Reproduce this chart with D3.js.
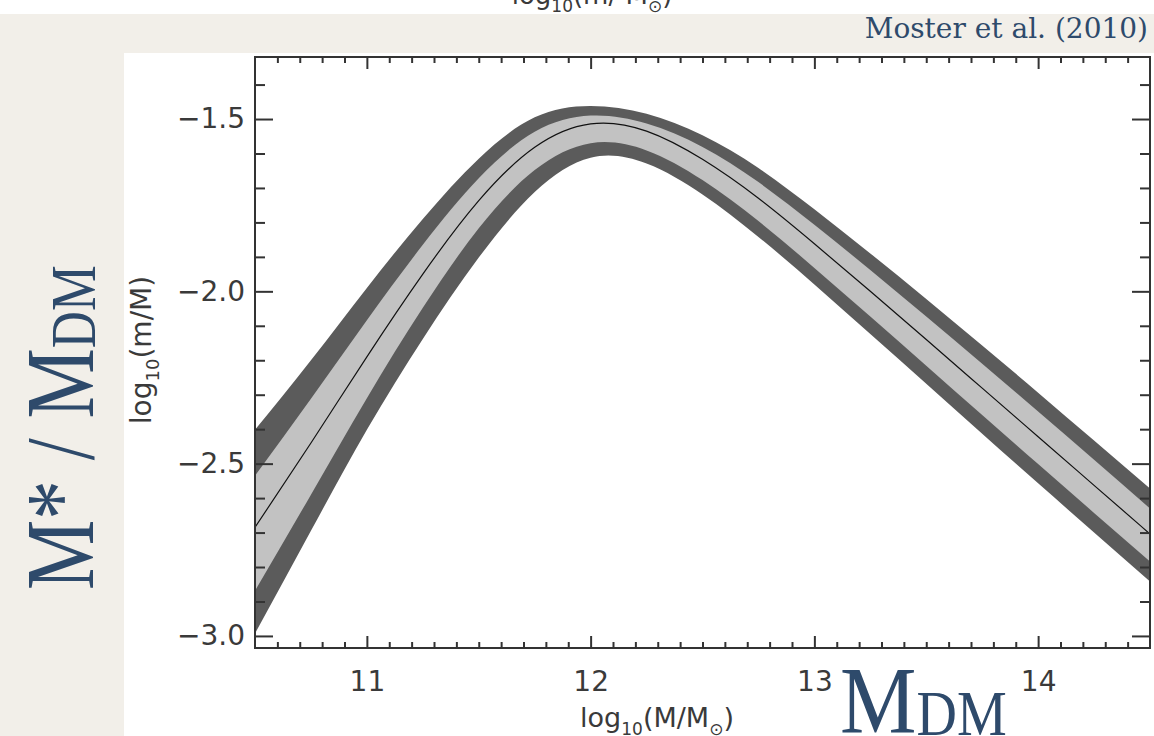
<!DOCTYPE html>
<html>
<head>
<meta charset="utf-8">
<script src="https://cdn.jsdelivr.net/npm/d3@7"></script>
<style>
  body { margin: 0; background: #f2efe9; }
  svg { display: block; }
</style>
</head>
<body>
<script>
// halo mass grid, log10(M/Msun)
const haloMass = [10.5, 10.75, 11.0, 11.25, 11.5, 11.75, 12.0, 12.25, 12.5, 12.75, 13.0, 13.25, 13.5, 13.75, 14.0, 14.25, 14.5];
// log10(m/M)
const ratioMedian = [-2.685, -2.440, -2.190, -1.950, -1.737, -1.582, -1.514, -1.535, -1.617, -1.730, -1.862, -2.000, -2.140, -2.281, -2.422, -2.563, -2.704];
const outerUpper  = [-2.402, -2.200, -1.990, -1.790, -1.615, -1.495, -1.462, -1.485, -1.547, -1.642, -1.762, -1.890, -2.022, -2.157, -2.294, -2.433, -2.572];
const innerUpper  = [-2.535, -2.312, -2.084, -1.865, -1.672, -1.537, -1.490, -1.513, -1.581, -1.683, -1.807, -1.938, -2.073, -2.210, -2.349, -2.489, -2.630];
const innerLower  = [-2.869, -2.590, -2.310, -2.048, -1.817, -1.648, -1.570, -1.591, -1.677, -1.796, -1.932, -2.073, -2.216, -2.359, -2.501, -2.643, -2.784];
const outerLower  = [-2.993, -2.695, -2.402, -2.138, -1.902, -1.712, -1.612, -1.629, -1.719, -1.842, -1.980, -2.124, -2.268, -2.413, -2.557, -2.700, -2.842];

const xTicks = [11, 12, 13, 14];
const yTicks = [-1.5, -2.0, -2.5, -3.0];

const W = 1154, H = 736;
const frame = {left: 255, right: 1150, top: 57, bottom: 648};
const serifColor = "#2e4a6b";
const inkColor = "#3a3a3a";

const svg = d3.select("body").append("svg")
    .attr("width", W)
    .attr("height", H);

// slide background
svg.append("rect").attr("width", W).attr("height", H).attr("fill", "#f2efe9");
svg.append("rect").attr("width", W).attr("height", 14).attr("fill", "#ffffff");
svg.append("rect").attr("x", 124).attr("y", 53).attr("width", W - 124).attr("height", H - 53).attr("fill", "#ffffff");

// cut-off label from the panel above
const cut = svg.append("text")
    .attr("x", 592).attr("y", 4)
    .attr("text-anchor", "middle")
    .style("font-family", "DejaVu Sans").style("font-size", "26px").style("fill", inkColor);
cut.append("tspan").text("log");
cut.append("tspan").attr("dy", 8).style("font-size", "17px").text("10");
cut.append("tspan").attr("dy", -8).text("(m/ M");
cut.append("tspan").attr("dy", 8).style("font-size", "17px").text("⊙");
cut.append("tspan").attr("dy", -8).text(")");

const x = d3.scaleLinear().domain([10.5, 14.5]).range([frame.left, frame.right]);
const y = d3.scaleLinear().domain([-3.035, -1.32]).range([frame.bottom, frame.top]);

const rows = haloMass.map((m, i) => ({
    m: m, mid: ratioMedian[i],
    ou: outerUpper[i], iu: innerUpper[i], il: innerLower[i], ol: outerLower[i]
}));

svg.append("clipPath").attr("id", "clip")
    .append("rect")
    .attr("x", frame.left).attr("y", frame.top)
    .attr("width", frame.right - frame.left).attr("height", frame.bottom - frame.top);

const plot = svg.append("g").attr("clip-path", "url(#clip)");

const outerArea = d3.area().curve(d3.curveNatural)
    .x(d => x(d.m)).y0(d => y(d.ol)).y1(d => y(d.ou));
const innerArea = d3.area().curve(d3.curveNatural)
    .x(d => x(d.m)).y0(d => y(d.il)).y1(d => y(d.iu));
const midLine = d3.line().curve(d3.curveNatural)
    .x(d => x(d.m)).y(d => y(d.mid));

plot.append("path").datum(rows).attr("d", outerArea).attr("fill", "#5b5b5b");
plot.append("path").datum(rows).attr("d", innerArea).attr("fill", "#c2c2c2");
plot.append("path").datum(rows).attr("d", midLine)
    .attr("fill", "none").attr("stroke", "#111").attr("stroke-width", 1.2);

// axes: ticks point inward on all four sides
const xMinor = d3.range(10.6, 14.45, 0.1).filter(v => Math.abs(v - Math.round(v)) > 0.01);
const yMinor = d3.range(-2.9, -1.35, 0.1).filter(v => Math.abs(v * 2 - Math.round(v * 2)) > 0.01);

function styleAxis(g) {
    g.select(".domain").remove();
    g.selectAll("line").attr("stroke", "#333").attr("stroke-width", 2);
    g.selectAll("text")
        .style("font-family", "DejaVu Sans")
        .style("font-size", "28px")
        .style("fill", inkColor);
}

svg.append("g").attr("transform", `translate(0,${frame.bottom})`)
    .call(d3.axisBottom(x).tickValues(xTicks).tickSize(-12).tickPadding(23).tickFormat(d3.format("d")))
    .call(styleAxis);
svg.append("g").attr("transform", `translate(0,${frame.bottom})`)
    .call(d3.axisBottom(x).tickValues(xMinor).tickSize(-6).tickFormat(""))
    .call(styleAxis);
svg.append("g").attr("transform", `translate(0,${frame.top})`)
    .call(d3.axisTop(x).tickValues(xTicks).tickSize(-12).tickFormat(""))
    .call(styleAxis);
svg.append("g").attr("transform", `translate(0,${frame.top})`)
    .call(d3.axisTop(x).tickValues(xMinor).tickSize(-6).tickFormat(""))
    .call(styleAxis);

svg.append("g").attr("transform", `translate(${frame.left},0)`)
    .call(d3.axisLeft(y).tickValues(yTicks).tickSize(-18).tickPadding(10).tickFormat(d3.format(".1f")))
    .call(styleAxis);
svg.append("g").attr("transform", `translate(${frame.left},0)`)
    .call(d3.axisLeft(y).tickValues(yMinor).tickSize(-10).tickFormat(""))
    .call(styleAxis);
svg.append("g").attr("transform", `translate(${frame.right},0)`)
    .call(d3.axisRight(y).tickValues(yTicks).tickSize(-18).tickFormat(""))
    .call(styleAxis);
svg.append("g").attr("transform", `translate(${frame.right},0)`)
    .call(d3.axisRight(y).tickValues(yMinor).tickSize(-10).tickFormat(""))
    .call(styleAxis);

svg.append("rect")
    .attr("x", frame.left).attr("y", frame.top)
    .attr("width", frame.right - frame.left).attr("height", frame.bottom - frame.top)
    .attr("fill", "none").attr("stroke", "#333").attr("stroke-width", 2);

// axis titles
const xt = svg.append("text")
    .attr("x", 657).attr("y", 727)
    .attr("text-anchor", "middle")
    .style("font-family", "DejaVu Sans").style("font-size", "27px").style("fill", inkColor);
xt.append("tspan").text("log");
xt.append("tspan").attr("dy", 8).style("font-size", "17px").text("10");
xt.append("tspan").attr("dy", -8).text("(M/M");
xt.append("tspan").attr("dy", 8).style("font-size", "17px").text("⊙");
xt.append("tspan").attr("dy", -8).text(")");

const yt = svg.append("text")
    .attr("transform", "translate(151,350) rotate(-90)")
    .attr("text-anchor", "middle")
    .style("font-family", "DejaVu Sans").style("font-size", "28px").style("fill", inkColor);
yt.append("tspan").text("log");
yt.append("tspan").attr("dy", 8).style("font-size", "18px").text("10");
yt.append("tspan").attr("dy", -8).text("(m/M)");

// slide annotations
svg.append("text")
    .attr("x", 1148).attr("y", 38)
    .attr("text-anchor", "end")
    .style("font-family", "DejaVu Serif").style("font-size", "28px").style("fill", serifColor)
    .text("Moster et al. (2010)");

const big = svg.append("text")
    .attr("transform", "translate(93,590) rotate(-90) scale(0.92,1.12)")
    .style("font-family", "Liberation Serif").style("font-size", "86px").style("fill", serifColor);
big.append("tspan").text("M* / M");
big.append("tspan").attr("dy", 2).style("font-size", "56px").text("DM");

const mdm = svg.append("text")
    .attr("transform", "translate(840,733) scale(1.0,1.12)")
    .style("font-family", "Liberation Serif").style("font-size", "86px").style("fill", serifColor);
mdm.append("tspan").text("M");
mdm.append("tspan").attr("dy", 2).style("font-size", "56px").text("DM");
</script>
</body>
</html>
